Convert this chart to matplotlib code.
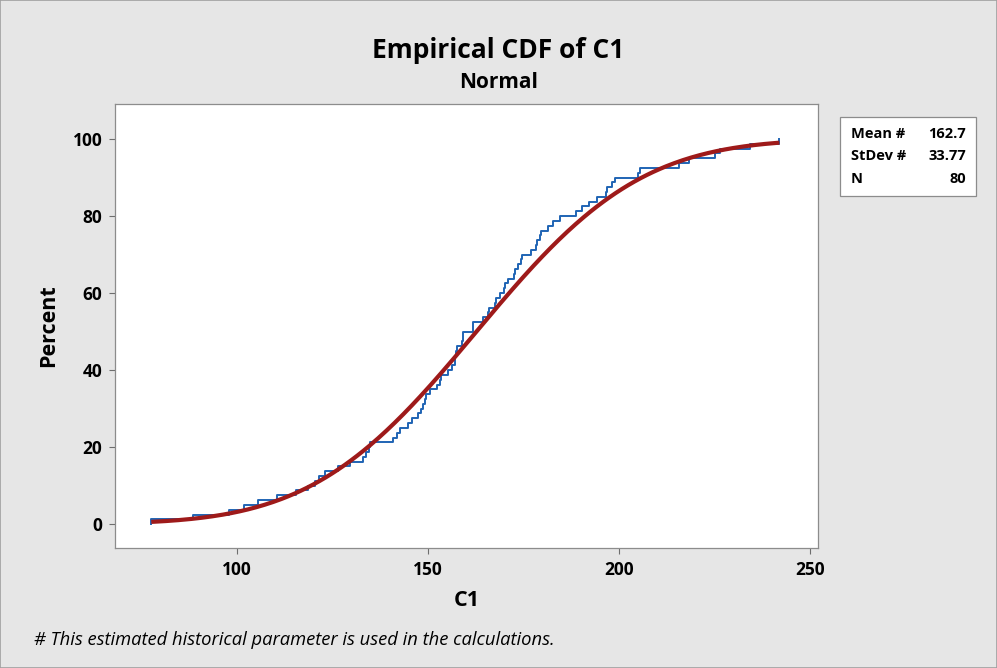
import math
import numpy as np
import matplotlib
matplotlib.use("Agg")
import matplotlib.pyplot as plt
from matplotlib.patches import Rectangle

# sorted sample (N = 80)
c1 = [77.6, 88.4, 98.0, 101.9, 105.6, 110.4, 115.6, 118.5, 120.4, 121.5,
      123.2, 126.5, 129.5, 133.1, 133.9, 134.7, 134.9, 140.8, 141.8, 142.7,
      144.8, 145.9, 147.5, 148.3, 148.6, 149.3, 149.6, 150.5, 152.4, 153.2,
      153.4, 155.3, 156.2, 157.0, 157.2, 157.4, 157.6, 158.8, 159.1, 159.3,
      161.7, 161.9, 164.3, 165.6, 165.9, 167.6, 167.8, 168.8, 170.0, 170.2,
      171.0, 172.6, 172.8, 173.6, 174.3, 174.5, 176.9, 178.4, 178.6, 179.3,
      179.5, 181.5, 182.8, 184.6, 188.7, 190.2, 192.2, 194.3, 196.7, 196.9,
      198.1, 199.0, 205.1, 205.6, 215.8, 218.4, 225.1, 226.4, 234.3, 242.0]

# historical parameters shown in the legend box
mean_hist = 162.7
sd_hist = 33.77
n_obs = 80

x_ticks = [100, 150, 200, 250]
y_ticks = [0, 20, 40, 60, 80, 100]

BG = "#e6e6e6"
BLUE = "#1f64b4"
RED = "#9e1a1a"
FONT = "Open Sans"

fig = plt.figure(figsize=(9.97, 6.68), dpi=100, facecolor=BG)
fig.patches.append(Rectangle((0, 0), 1, 1, transform=fig.transFigure,
                             facecolor=BG, edgecolor="#a0a0a0", lw=1.2, zorder=-10))

ax = fig.add_axes([0.1153, 0.1796, 0.7052, 0.6647])
ax.set_facecolor("white")

# empirical cdf as a step line
xs = np.array(c1)
pct = np.arange(1, len(xs) + 1) / len(xs) * 100
ax.step(np.r_[xs[0], xs], np.r_[0, pct], where="post", color=BLUE, lw=1.4, zorder=2)

# fitted normal cdf
xf = np.linspace(xs.min(), xs.max(), 300)
yf = [50 * (1 + math.erf((v - mean_hist) / (sd_hist * math.sqrt(2)))) for v in xf]
ax.plot(xf, yf, color=RED, lw=3.0, zorder=3, solid_capstyle="butt")

ax.set_xlim(68.1, 252.1)
ax.set_ylim(-6.2, 109.1)
ax.set_xticks(x_ticks)
ax.set_yticks(y_ticks)
for s in ax.spines.values():
    s.set_color("#8c8c8c")
    s.set_linewidth(0.9)
ax.tick_params(direction="out", length=4, width=0.8, color="#6e6e6e", labelsize=12.5, pad=5)
for lab in ax.get_xticklabels() + ax.get_yticklabels():
    lab.set_fontfamily(FONT)
    lab.set_fontweight("bold")

ax.set_xlabel("C1", fontsize=15.5, fontweight="bold", family=FONT, labelpad=8)
ax.set_ylabel("Percent", fontsize=15.5, fontweight="bold", family=FONT, labelpad=10)

fig.text(0.5, 0.925, "Empirical CDF of C1", ha="center", va="center",
         fontsize=19, fontweight="bold", family=FONT)
fig.text(0.5, 0.876, "Normal", ha="center", va="center",
         fontsize=15, fontweight="bold", family=FONT)

# stats box
box_l, box_b, box_w, box_h = 840 / 997, 1 - 196 / 668, 136 / 997, 79 / 668
fig.patches.append(Rectangle((box_l, box_b), box_w, box_h, transform=fig.transFigure,
                             facecolor="white", edgecolor="#8c8c8c", lw=0.9))
rows = [("Mean #", f"{mean_hist:.1f}"), ("StDev #", f"{sd_hist:.2f}"), ("N", f"{n_obs}")]
for i, (k, v) in enumerate(rows):
    yy = 1 - (134 + i * 22.5) / 668
    fig.text(851 / 997, yy, k, ha="left", va="center", fontsize=10.5,
             fontweight="bold", family=FONT)
    fig.text(966 / 997, yy, v, ha="right", va="center", fontsize=10.5,
             fontweight="bold", family=FONT)

fig.text(34 / 997, 1 - 640 / 668,
         "# This estimated historical parameter is used in the calculations.",
         ha="left", va="center", fontsize=13.2, style="italic", family=FONT)

fig.savefig("out.png", dpi=100, facecolor=BG)
